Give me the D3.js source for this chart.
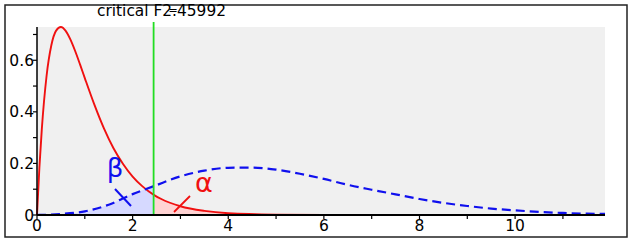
<!DOCTYPE html>
<html><head><meta charset="utf-8">
<script src="https://cdn.jsdelivr.net/npm/d3@7"></script>
<style>html,body{margin:0;padding:0;background:#fff;}svg{display:block;}</style>
</head><body>
<svg id="c" width="632" height="243"></svg>
<script>
// ---- data ----
const critF = 2.45992;
const redX = [0, 0.05, 0.1, 0.2, 0.3, 0.4, 0.5, 0.6, 0.7, 0.8, 0.9, 1.0, 1.2, 1.4, 1.6, 1.8, 2.0, 2.2, 2.45992, 2.6, 3.0, 3.5, 4.0, 5.0, 6.0, 8.0, 11.88];
const redY = [0, 0.184, 0.331, 0.539, 0.658, 0.715, 0.729, 0.714, 0.680, 0.635, 0.584, 0.531, 0.428, 0.336, 0.259, 0.198, 0.149, 0.112, 0.076, 0.062, 0.034, 0.016, 0.007, 0.0015, 0.0003, 0, 0];
const blueX = [0, 0.5, 1.0, 1.5, 2.0, 2.45992, 3.0, 3.5, 4.0, 4.5, 5.0, 5.5, 6.0, 6.5, 7.0, 7.5, 8.0, 8.5, 9.0, 9.5, 10.0, 10.5, 11.0, 11.5, 11.88];
const blueY = [0, 0.004, 0.014, 0.040, 0.081, 0.113, 0.150, 0.172, 0.183, 0.184, 0.176, 0.160, 0.140, 0.117, 0.098, 0.080, 0.062, 0.047, 0.035, 0.025, 0.018, 0.012, 0.008, 0.005, 0.004];
const xTicks = [0,1,2,3,4,5,6,7,8,9,10,11];
const xLabels = [0,2,4,6,8,10];
const yTicks = [0,0.1,0.2,0.3,0.4,0.5,0.6,0.7];
const yLabels = [0,0.2,0.4,0.6];
const xDomain = [0, 11.88];
const yDomain = [0, 0.729];

// ---- drawing ----
const svg = d3.select("#c");
const x = d3.scaleLinear().domain(xDomain).range([37, 605]);
const y = d3.scaleLinear().domain(yDomain).range([215, 27]);
const red = redX.map((v,i)=>[v, redY[i]]);
const blue = blueX.map((v,i)=>[v, blueY[i]]);

// frame
svg.append("rect").attr("x",5).attr("y",5).attr("width",622).attr("height",232)
  .attr("fill","#fff").attr("stroke","#222").attr("stroke-width",1.5);
// plot background
svg.append("rect").attr("x",x(xDomain[0])).attr("y",y(yDomain[1]))
  .attr("width",x(xDomain[1])-x(xDomain[0])).attr("height",y(0)-y(yDomain[1]))
  .attr("fill","#f0f0f0");

const area = d3.area().x(d=>x(d[0])).y0(y(0)).y1(d=>y(d[1])).curve(d3.curveMonotoneX);
const line = d3.line().x(d=>x(d[0])).y(d=>y(d[1])).curve(d3.curveMonotoneX);

svg.append("path").attr("d", area(blue.filter(d=>d[0]<=critF))).attr("fill","#d6d9ff");
svg.append("path").attr("d", area(red.filter(d=>d[0]>=critF))).attr("fill","#ffd3d3");

svg.append("path").attr("d", line(red)).attr("fill","none").attr("stroke","#f01010").attr("stroke-width",1.9);
svg.append("path").attr("d", line(blue)).attr("fill","none").attr("stroke","#1010ee")
  .attr("stroke-width",2.2).attr("stroke-dasharray","9,5");

// critical line
svg.append("line").attr("x1",x(critF)-1).attr("x2",x(critF)-1).attr("y1",22).attr("y2",y(0))
  .attr("stroke","#22dd22").attr("stroke-width",1.8);

// axes
const ax = svg.append("g");
ax.append("line").attr("x1",x(0)).attr("x2",x(xDomain[1])).attr("y1",y(0)).attr("y2",y(0))
  .attr("stroke","#000").attr("stroke-width",2);
ax.append("line").attr("x1",x(0)).attr("x2",x(0)).attr("y1",y(0)).attr("y2",y(yDomain[1]))
  .attr("stroke","#000").attr("stroke-width",1.5);
ax.selectAll(".xt").data(xTicks).join("line").attr("x1",d=>x(d)).attr("x2",d=>x(d))
  .attr("y1",y(0)).attr("y2",y(0)+4).attr("stroke","#000").attr("stroke-width",1.2);
ax.selectAll(".yt").data(yTicks).join("line").attr("x1",x(0)-4).attr("x2",x(0))
  .attr("y1",d=>y(d)).attr("y2",d=>y(d)).attr("stroke","#000").attr("stroke-width",1.2);
ax.selectAll(".xl").data(xLabels).join("text").attr("x",d=>x(d)).attr("y",231)
  .attr("text-anchor","middle").attr("font-family","DejaVu Sans").attr("font-size",15.5)
  .attr("fill","#000").text(d=>d);
ax.selectAll(".yl").data(yLabels).join("text").attr("x",34).attr("y",d=>y(d)+5.5)
  .attr("text-anchor","end").attr("font-family","DejaVu Sans").attr("font-size",15.5)
  .attr("fill","#000").text(d=>d);

// annotations
svg.append("text").attr("x",115).attr("y",177).attr("text-anchor","middle")
  .attr("font-family","DejaVu Sans").attr("font-size",26).attr("fill","#1010ee").text("β");
svg.append("line").attr("x1",115).attr("y1",189).attr("x2",131).attr("y2",206)
  .attr("stroke","#1010ee").attr("stroke-width",2);
svg.append("text").attr("x",204).attr("y",192).attr("text-anchor","middle")
  .attr("font-family","DejaVu Sans").attr("font-size",27).attr("fill","#f01010").text("α");
svg.append("line").attr("x1",190).attr("y1",196).attr("x2",174).attr("y2",212)
  .attr("stroke","#f01010").attr("stroke-width",1.8);

// title
svg.append("text").attr("x",97).attr("y",15.5).attr("font-family","DejaVu Sans")
  .attr("font-size",15.5).attr("textLength",129).attr("lengthAdjust","spacingAndGlyphs")
  .attr("fill","#000").text("critical F2.45992");
svg.append("text").attr("x",173).attr("y",14).attr("text-anchor","middle")
  .attr("font-family","DejaVu Sans").attr("font-size",11).attr("fill","#000").text("=");
</script>
</body></html>
